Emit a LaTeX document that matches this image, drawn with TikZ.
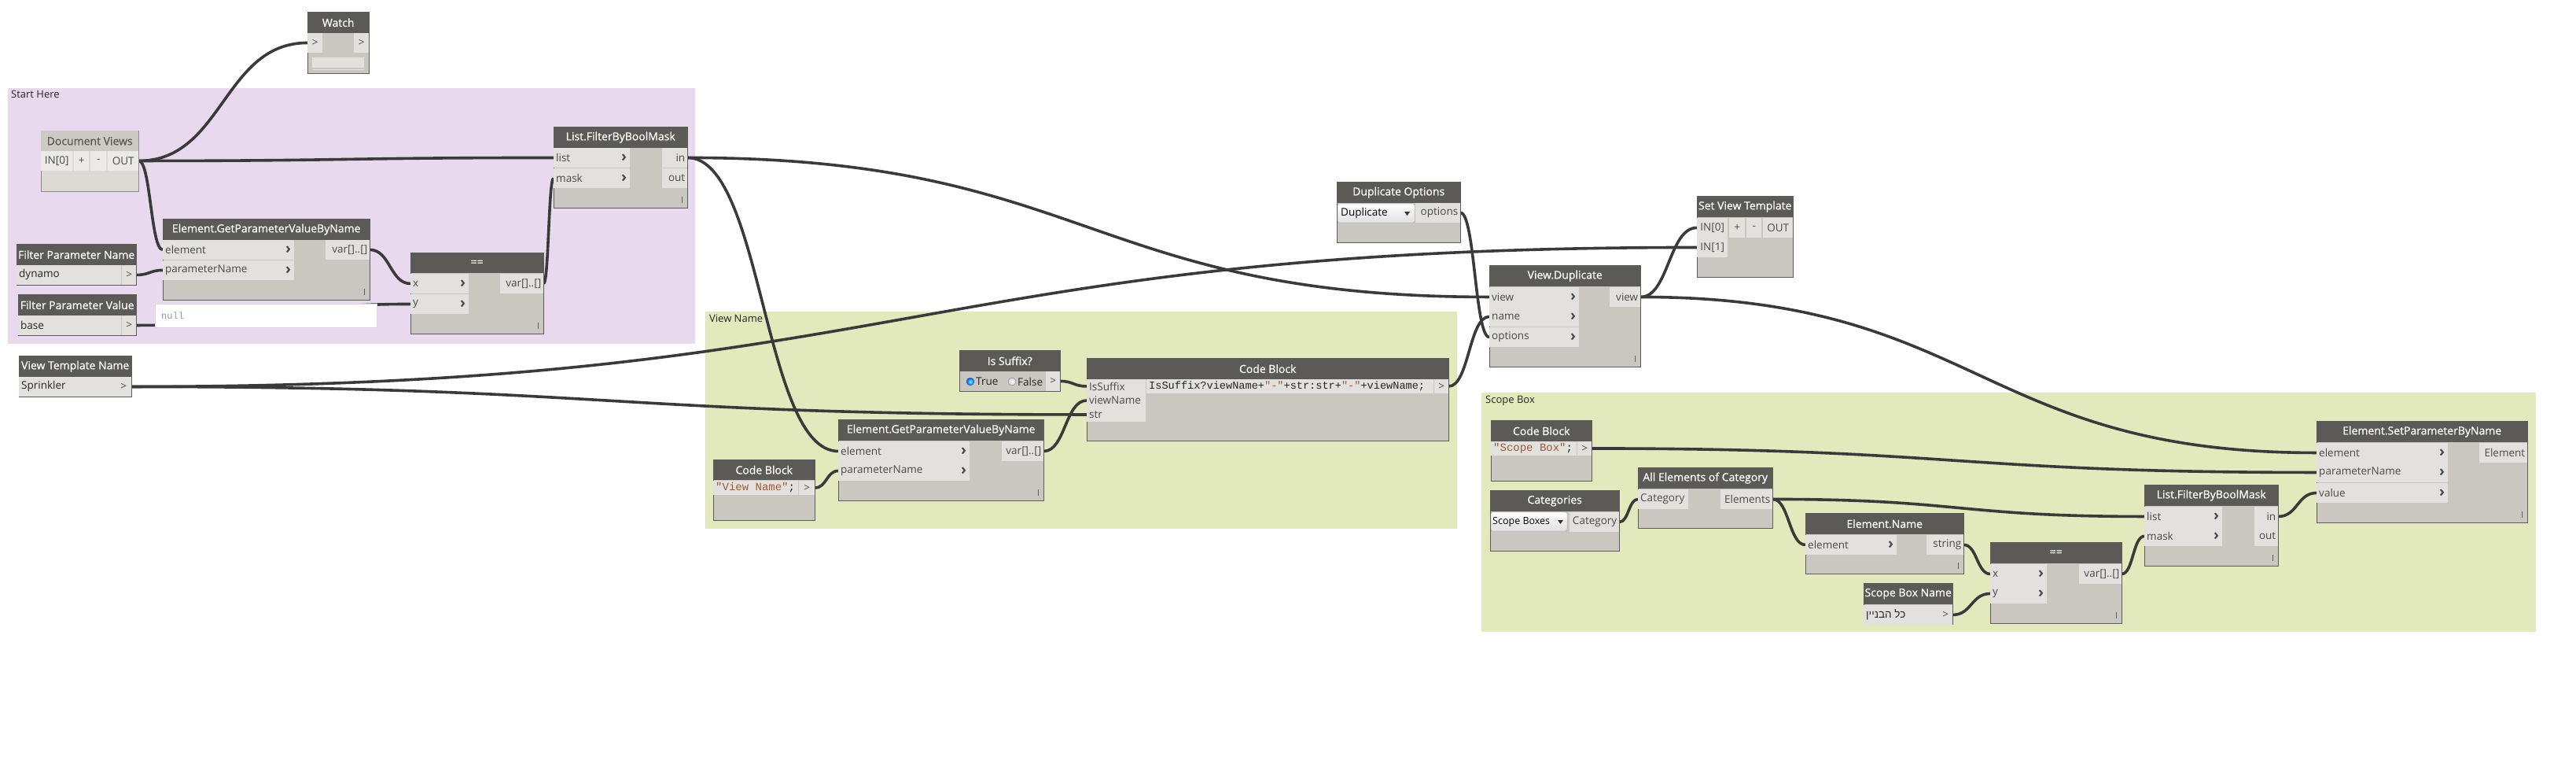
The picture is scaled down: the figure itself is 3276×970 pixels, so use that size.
\documentclass[tikz,border=0pt]{standalone}
\usepackage{fontspec}
\setmainfont{Open Sans}
\newfontfamily\monofam{Liberation Mono}
\newfontfamily\hdfam[FakeBold=0.7]{Open Sans}
\newfontfamily\hebrewfam[Script=Hebrew]{Liberation Sans}
\TeXXeTstate=1
\usepackage{tikz}
\usetikzlibrary{positioning}
\usetikzlibrary{calc}
\definecolor{headc}{HTML}{5B5A57}
\definecolor{bodyc}{HTML}{CAC6C0}
\definecolor{cellc}{HTML}{E3E1DD}
\definecolor{edgec}{HTML}{5C5C5C}
\definecolor{portc}{HTML}{4A4A4A}
\definecolor{wirec}{HTML}{3A3A3A}
\definecolor{fheadc}{HTML}{CDC9C3}
\definecolor{fbodyc}{HTML}{DDDAD5}
\definecolor{fcellc}{HTML}{ECEAE7}
\definecolor{purplec}{HTML}{E8D9EE}
\definecolor{greenc}{HTML}{E1E9BD}
\definecolor{strc}{HTML}{9C5A36}
\newcommand\hdfont{\hdfam\fontsize{14}{16}\selectfont}
\newcommand\ptfont{\fontsize{13.5}{15}\selectfont}
\pgfdeclarelayer{back}
\pgfdeclarelayer{wires}
\pgfsetlayers{back,wires,main}
\tikzset{grouplabel/.style = {anchor=north west, inner sep=0pt, font=\fontsize{13}{15}\selectfont, text=black!85},
         body/.style = {anchor=north west, draw=edgec, line width=1pt, fill=bodyc, inner sep=0pt},
         head/.style = {anchor=north west, fill=headc, text=white, inner sep=0pt, font=\hdfont},
         cell/.style = {anchor=north west, fill=cellc, inner sep=0pt, minimum height=24.5pt, font=\ptfont, text=portc},
         lbl/.style = {anchor=west, xshift=3pt, inner sep=0pt, font=\ptfont, text=portc},
         rlbl/.style = {anchor=east, xshift=-3pt, inner sep=0pt, font=\ptfont, text=portc},
         chev/.style = {anchor=east, xshift=-4pt, inner sep=0pt, font=\fontsize{19}{19}\selectfont\bfseries, text=portc},
         inp/.style = {cell, label={[lbl]west:#1}, label={[chev]east:›}},
         outp/.style = {cell, label={[rlbl]east:#1}},
         valcell/.style = {cell, label={[lbl, text=black!85]west:#1}},
         codecell/.style = {cell, minimum height=17.5pt},
         dropbox/.style = {draw=black!40, rounded corners=2pt, top color=white, bottom color=black!12},
         grip/.style = {draw=edgec, line width=1pt},
         wire/.style = {draw=wirec, line width=3.6pt,
                        to path={let \p1=(\tikztostart), \p2=(\tikztotarget), \n1={abs(\x2-\x1)/2} in
                                 .. controls +(\n1,0) and +(-\n1,0) .. (\tikztotarget)}}}

\begin{document}
\begin{tikzpicture}[x=1pt, y=-1pt]
  \useasboundingbox (0,0) rectangle (3276,970);

  % groups
  \begin{pgfonlayer}{back}
    \fill [purplec] (10,112) rectangle (884,437);
    \node [grouplabel] (g-start) at (14,115) {Start Here};
    \fill [greenc] (897,396) rectangle (1853,672);
    \node [grouplabel] (g-view) at (902,400) {View Name};
    \fill [greenc] (1884,499) rectangle (3225,803);
    \node [grouplabel] (g-scope) at (1889,503) {Scope Box};
  \end{pgfonlayer}

  % Watch
  \node [body, minimum width=78pt, minimum height=78pt] (watch) at (391,15) {};
  \node [head, minimum width=78pt, minimum height=27pt] (watch-h) at (391,15) {Watch};
  \node [cell, minimum width=19pt] (watch-in) at (391,42) {>};
  \node [cell, minimum width=19pt] (watch-out) at (450,42) {>};
  \fill [cellc] (397,73) rectangle (463,86);
  \draw [black!10] (397,88) -- (463,88);

  % Document Views
  \node [body, fill=fbodyc, draw=black!45, minimum width=124pt, minimum height=77pt] (docv) at (52,166) {};
  \node [head, fill=fheadc, text=black!65, minimum width=124pt, minimum height=26pt] (docv-h) at (52,166) {Document Views};
  \node [cell, fill=fcellc, minimum width=40pt] (docv-in0) at (52,192) {IN[0]};
  \node [cell, fill=fcellc, minimum width=19pt] (docv-plus) at (94,192) {+};
  \node [cell, fill=fcellc, minimum width=20pt] (docv-minus) at (115,192) {-};
  \node [cell, fill=fcellc, minimum width=39pt] (docv-out) at (137,192) {OUT};

  % List.FilterByBoolMask (start)
  \node [body, minimum width=170pt, minimum height=103pt] (fbm1) at (704,161) {};
  \node [head, minimum width=170pt, minimum height=27pt] (fbm1-h) at (704,161) {List.FilterByBoolMask};
  \node [inp=list, minimum width=97pt] (fbm1-list) at (704,188) {};
  \node [inp=mask, minimum width=97pt] (fbm1-mask) at (704,214) {};
  \node [outp=in, minimum width=32pt] (fbm1-in) at (842,188) {};
  \node [outp=out, minimum width=32pt] (fbm1-out) at (842,214) {};
  \draw [grip] (867,250) -- (867,258);

  % Element.GetParameterValueByName (start)
  \node [body, minimum width=263pt, minimum height=103pt] (gp1) at (207,278) {};
  \node [head, minimum width=263pt, minimum height=27pt] (gp1-h) at (207,278) {Element.GetParameterValueByName};
  \node [inp=element, minimum width=167pt] (gp1-el) at (207,305) {};
  \node [inp=parameterName, minimum width=167pt] (gp1-pn) at (207,331) {};
  \node [outp={var[]..[]}, minimum width=56pt] (gp1-var) at (414,305) {};
  \draw [grip] (463,367) -- (463,375);

  % Filter Parameter Name / Value
  \node [body, minimum width=152pt, minimum height=52pt] (fpn) at (21,310) {};
  \node [head, minimum width=152pt, minimum height=27pt] (fpn-h) at (21,310) {Filter Parameter Name};
  \node [valcell=dynamo, minimum width=133pt] (fpn-v) at (21,337) {};
  \node [cell, minimum width=18pt] (fpn-out) at (155,337) {>};
  \node [body, minimum width=150pt, minimum height=52pt] (fpv) at (23,374) {};
  \node [head, minimum width=150pt, minimum height=27pt] (fpv-h) at (23,374) {Filter Parameter Value};
  \node [valcell=base, minimum width=131pt] (fpv-v) at (23,401) {};
  \node [cell, minimum width=18pt] (fpv-out) at (155,401) {>};
  \node [anchor=north west, fill=white, draw=black!15, inner sep=0pt, minimum width=282pt, minimum height=30pt,
         label={[anchor=west, xshift=8pt, inner sep=0pt, font=\monofam\fontsize{12}{14}\selectfont, text=black!40]west:null}] (nullv) at (197,386) {};

  % == (start)
  \node [body, minimum width=169pt, minimum height=103pt] (eq1) at (522,321) {};
  \node [head, minimum width=169pt, minimum height=26pt] (eq1-h) at (522,321) {==};
  \node [inp=x, minimum width=74pt] (eq1-x) at (522,348) {};
  \node [inp=y, minimum width=74pt] (eq1-y) at (522,374) {};
  \node [outp={var[]..[]}, minimum width=55pt] (eq1-var) at (636,348) {};
  \draw [grip] (684,410) -- (684,418);

  % View Template Name
  \node [body, minimum width=143pt, minimum height=52pt] (vtn) at (24,452) {};
  \node [head, minimum width=143pt, minimum height=27pt] (vtn-h) at (24,452) {View Template Name};
  \node [valcell=Sprinkler, minimum width=123pt] (vtn-v) at (24,479) {};
  \node [cell, minimum width=20pt] (vtn-out) at (147,479) {>};

  % Is Suffix?
  \node [body, minimum width=128pt, minimum height=52pt] (sfx) at (1220,445) {};
  \node [head, minimum width=128pt, minimum height=27pt] (sfx-h) at (1220,445) {Is Suffix?};
  \node [cell, minimum width=18pt] (sfx-out) at (1330,472) {>};
  \filldraw [draw=black!55, inner color=cyan!60, outer color=blue!70!cyan] (1234,485) circle (5);
  \node [anchor=west, inner sep=0pt, font=\ptfont, text=black!85] (sfx-t) at (1241,485) {True};
  \filldraw [draw=black!40, inner color=white, outer color=black!20] (1287,485) circle (5);
  \node [anchor=west, inner sep=0pt, font=\ptfont, text=black!85] (sfx-f) at (1294,485) {False};

  % Code Block (view name)
  \node [body, minimum width=460pt, minimum height=105pt] (cb1) at (1382,455) {};
  \node [head, minimum width=460pt, minimum height=27pt] (cb1-h) at (1382,455) {Code Block};
  \node [codecell, label={[lbl]west:IsSuffix}, minimum width=75pt] (cb1-sfx) at (1382,482) {};
  \node [codecell, label={[lbl]west:viewName}, minimum width=75pt] (cb1-vn) at (1382,500) {};
  \node [codecell, label={[lbl]west:str}, minimum width=75pt] (cb1-str) at (1382,518) {};
  \node [codecell, minimum width=365pt, label={[lbl, text=black!85, font=\monofam\fontsize{13.6}{15}\selectfont]west:IsSuffix?viewName+\textcolor{strc}{"-"}+str:str+\textcolor{strc}{"-"}+viewName;}] (cb1-code) at (1458,482) {};
  \node [codecell, minimum width=18pt] (cb1-out) at (1824,482) {>};

  % Element.GetParameterValueByName (view name)
  \node [body, minimum width=261pt, minimum height=103pt] (gp2) at (1066,533) {};
  \node [head, minimum width=261pt, minimum height=27pt] (gp2-h) at (1066,533) {Element.GetParameterValueByName};
  \node [inp=element, minimum width=167pt] (gp2-el) at (1066,561) {};
  \node [inp=parameterName, minimum width=167pt] (gp2-pn) at (1066,586) {};
  \node [outp={var[]..[]}, minimum width=53pt] (gp2-var) at (1274,561) {};
  \draw [grip] (1320,622) -- (1320,630);

  % Code Block "View Name"
  \node [body, minimum width=129pt, minimum height=77pt] (cb2) at (907,584) {};
  \node [head, minimum width=129pt, minimum height=26pt] (cb2-h) at (907,584) {Code Block};
  \node [codecell, minimum width=108pt, label={[lbl, text=black!85, font=\monofam\fontsize{14}{15}\selectfont]west:\textcolor{strc}{"View Name"};}] (cb2-code) at (907,611) {};
  \node [codecell, minimum width=20pt] (cb2-out) at (1016,611) {>};

  % Duplicate Options
  \node [body, minimum width=157pt, minimum height=77pt] (dop) at (1700,231) {};
  \node [head, minimum width=157pt, minimum height=27pt] (dop-h) at (1700,231) {Duplicate Options};
  \draw [dropbox] (1701,259) rectangle (1799,283);
  \node [anchor=west, inner sep=0pt, font=\ptfont, text=black] (dop-t) at (1705,271) {Duplicate};
  \fill [black!80] (1786,269) -- (1793,269) -- (1789.5,274) -- cycle;
  \node [outp=options, minimum width=57pt] (dop-out) at (1800,258) {};

  % View.Duplicate
  \node [body, minimum width=192pt, minimum height=129pt] (vd) at (1894,337) {};
  \node [head, minimum width=192pt, minimum height=27pt] (vd-h) at (1894,337) {View.Duplicate};
  \node [inp=view, minimum width=114pt] (vd-view) at (1894,365) {};
  \node [inp=name, minimum width=114pt] (vd-name) at (1894,390) {};
  \node [inp=options, minimum width=114pt] (vd-opt) at (1894,416) {};
  \node [outp=view, minimum width=39pt] (vd-out) at (2047,365) {};
  \draw [grip] (2079,452) -- (2079,460);

  % Set View Template
  \node [body, minimum width=122pt, minimum height=103pt] (svt) at (2158,249) {};
  \node [head, minimum width=122pt, minimum height=27pt] (svt-h) at (2158,249) {Set View Template};
  \node [cell, minimum width=39pt] (svt-in0) at (2158,277) {IN[0]};
  \node [cell, minimum width=20pt] (svt-plus) at (2199,277) {+};
  \node [cell, minimum width=19pt] (svt-minus) at (2221,277) {-};
  \node [cell, minimum width=38pt] (svt-out) at (2242,277) {OUT};
  \node [cell, minimum width=39pt] (svt-in1) at (2158,302) {IN[1]};

  % Code Block "Scope Box"
  \node [body, minimum width=128pt, minimum height=77pt] (cb3) at (1896,534) {};
  \node [head, minimum width=128pt, minimum height=27pt] (cb3-h) at (1896,534) {Code Block};
  \node [codecell, minimum width=109pt, label={[lbl, text=black!85, font=\monofam\fontsize{14}{15}\selectfont]west:\textcolor{strc}{"Scope Box"};}] (cb3-code) at (1896,561) {};
  \node [codecell, minimum width=18pt] (cb3-out) at (2006,561) {>};

  % Categories
  \node [body, minimum width=164pt, minimum height=77pt] (cat) at (1895,623) {};
  \node [head, minimum width=164pt, minimum height=27pt] (cat-h) at (1895,623) {Categories};
  \draw [dropbox] (1896,651) rectangle (1993,675);
  \node [anchor=west, inner sep=0pt, font=\fontsize{12.5}{14}\selectfont, text=black] (cat-t) at (1898,663) {Scope Boxes};
  \fill [black!80] (1981,661) -- (1988,661) -- (1984.5,666) -- cycle;
  \node [outp=Category, minimum width=63pt] (cat-out) at (1996,651) {};

  % All Elements of Category
  \node [body, minimum width=171pt, minimum height=77pt] (aec) at (2083,594) {};
  \node [head, minimum width=171pt, minimum height=27pt] (aec-h) at (2083,594) {All Elements of Category};
  \node [cell, label={[lbl]west:Category}, minimum width=64pt] (aec-cat) at (2083,622) {};
  \node [outp=Elements, minimum width=66pt] (aec-out) at (2188,622) {};

  % Element.Name
  \node [body, minimum width=201pt, minimum height=77pt] (en) at (2296,652) {};
  \node [head, minimum width=201pt, minimum height=27pt] (en-h) at (2296,652) {Element.Name};
  \node [inp=element, minimum width=116pt] (en-el) at (2296,680) {};
  \node [outp=string, minimum width=47pt] (en-out) at (2450,680) {};
  \draw [grip] (2490,715) -- (2490,723);

  % == (scope)
  \node [body, minimum width=167pt, minimum height=103pt] (eq2) at (2531,689) {};
  \node [head, minimum width=167pt, minimum height=27pt] (eq2-h) at (2531,689) {==};
  \node [inp=x, minimum width=72pt] (eq2-x) at (2531,717) {};
  \node [inp=y, minimum width=72pt] (eq2-y) at (2531,742) {};
  \node [outp={var[]..[]}, minimum width=54pt] (eq2-var) at (2644,717) {};
  \draw [grip] (2691,778) -- (2691,786);

  % Scope Box Name
  \node [body, minimum width=113pt, minimum height=52pt] (sbn) at (2370,741) {};
  \node [head, minimum width=113pt, minimum height=27pt] (sbn-h) at (2370,741) {Scope Box Name};
  \node [cell, minimum width=95pt, label={[lbl, text=black!85]west:{\hebrewfam\beginR כל הבניין\endR}}] (sbn-v) at (2370,769) {};
  \node [cell, minimum width=18pt] (sbn-out) at (2465,769) {>};

  % List.FilterByBoolMask (scope)
  \node [body, minimum width=170pt, minimum height=103pt] (fbm2) at (2727,616) {};
  \node [head, minimum width=170pt, minimum height=27pt] (fbm2-h) at (2727,616) {List.FilterByBoolMask};
  \node [inp=list, minimum width=99pt] (fbm2-list) at (2727,644) {};
  \node [inp=mask, minimum width=99pt] (fbm2-mask) at (2727,669) {};
  \node [outp=in, minimum width=30pt] (fbm2-in) at (2867,644) {};
  \node [outp=out, minimum width=30pt] (fbm2-out) at (2867,669) {};
  \draw [grip] (2890,705) -- (2890,713);

  % Element.SetParameterByName
  \node [body, minimum width=268pt, minimum height=129pt] (spn) at (2946,535) {};
  \node [head, minimum width=268pt, minimum height=27pt] (spn-h) at (2946,535) {Element.SetParameterByName};
  \node [inp=element, minimum width=167pt] (spn-el) at (2946,563) {};
  \node [inp=parameterName, minimum width=167pt] (spn-pn) at (2946,588) {};
  \node [inp=value, minimum width=167pt] (spn-val) at (2946,614) {};
  \node [outp=Element, minimum width=61pt] (spn-out) at (3153,563) {};
  \draw [grip] (3207,650) -- (3207,658);

  % wires
  \begin{pgfonlayer}{wires}
    \draw [wire] (docv-out.east) to (watch-in.west);
    \draw [wire] (docv-out.east) to (fbm1-list.west);
    \draw [wire] (docv-out.east) to (gp1-el.west);
    \draw [wire] (fpn-out.east) to (gp1-pn.west);
    \draw [wire] (fpv-out.east) to (eq1-y.west);
    \draw [wire] (gp1-var.east) to (eq1-x.west);
    \draw [wire] (eq1-var.east) to (fbm1-mask.west);
    \draw [wire] (fbm1-in.east) to (gp2-el.west);
    \draw [wire] (fbm1-in.east) to (vd-view.west);
    \draw [wire] (vtn-out.east) to (svt-in1.west);
    \draw [wire] (vtn-out.east) to (cb1-str.west);
    \draw [wire] (sfx-out.east) to (cb1-sfx.west);
    \draw [wire] (gp2-var.east) to (cb1-vn.west);
    \draw [wire] (cb2-out.east) to (gp2-pn.west);
    \draw [wire] (cb1-out.east) to (vd-name.west);
    \draw [wire] (dop-out.east) to (vd-opt.west);
    \draw [wire] (vd-out.east) to (svt-in0.west);
    \draw [wire] (vd-out.east) to (spn-el.west);
    \draw [wire] (cb3-out.east) to (spn-pn.west);
    \draw [wire] (cat-out.east) to (aec-cat.west);
    \draw [wire] (aec-out.east) to (fbm2-list.west);
    \draw [wire] (aec-out.east) to (en-el.west);
    \draw [wire] (en-out.east) to (eq2-x.west);
    \draw [wire] (sbn-out.east) to (eq2-y.west);
    \draw [wire] (eq2-var.east) to (fbm2-mask.west);
    \draw [wire] (fbm2-in.east) to (spn-val.west);
  \end{pgfonlayer}
\end{tikzpicture}
\end{document}
